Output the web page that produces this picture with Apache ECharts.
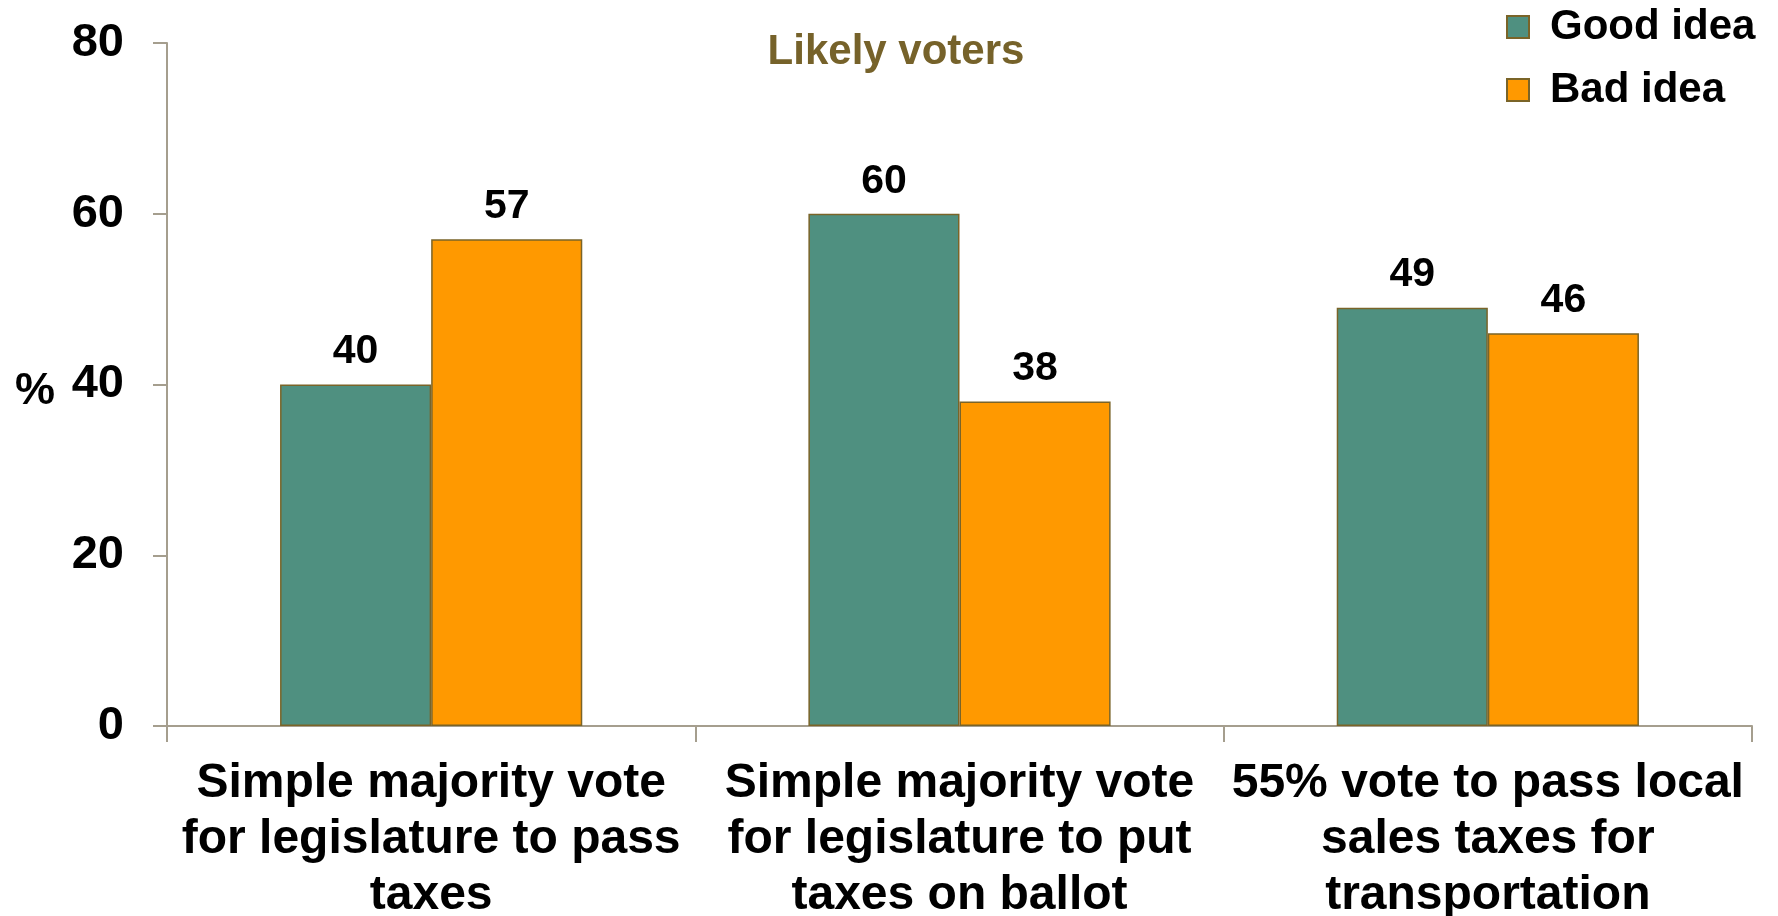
<!DOCTYPE html>
<html>
<head>
<meta charset="utf-8">
<style>html,body{margin:0;padding:0;background:#fff;}#c{width:1778px;height:916px;}</style>
<script src="https://cdn.jsdelivr.net/npm/echarts@6/dist/echarts.min.js"></script>
</head>
<body>
<div id="c"></div>
<script>
var categories = [
  'Simple majority vote\nfor legislature to pass\ntaxes',
  'Simple majority vote\nfor legislature to put\ntaxes on ballot',
  '55% vote to pass local\nsales taxes for\ntransportation'
];
var seriesNames = ['Good idea', 'Bad idea'];
var goodIdea = [40, 60, 49];
var badIdea = [57, 38, 46];
var yTicks = [0, 20, 40, 60, 80];

var FONT = 'Arial, "Liberation Sans", sans-serif';
var axisColor = '#a59e8e';
var borderCol = '#7a6428';

var chart = echarts.init(document.getElementById('c'));
var labelOpt = {
  show: true, position: 'top', distance: 12,
  color: '#000', fontFamily: FONT, fontWeight: 'bold', fontSize: 41
};
chart.setOption({
  animation: false,
  backgroundColor: '#fff',
  graphic: [{
    type: 'text', x: 896, y: 52,
    style: { text: 'Likely voters', fill: '#76622a', font: 'bold 42px ' + FONT,
             textAlign: 'center', textVerticalAlign: 'middle' }
  }],
  legend: {
    orient: 'vertical', left: 1506, top: 6, padding: 0,
    itemWidth: 22, itemHeight: 22, itemGap: 21,
    icon: 'rect',
    data: seriesNames,
    textStyle: { color: '#000', fontFamily: FONT, fontWeight: 'bold', fontSize: 42,
                 lineHeight: 42, padding: [0, 0, 0, 16] }
  },
  grid: { left: 167, right: 26, top: 43, bottom: 190, containLabel: false, outerBoundsMode: 'none' },
  xAxis: {
    type: 'category', data: categories,
    axisLine: { lineStyle: { color: axisColor, width: 2 } },
    axisTick: { show: true, length: 16, lineStyle: { color: axisColor, width: 2 } },
    axisLabel: { color: '#000', fontFamily: FONT, fontWeight: 'bold', fontSize: 48,
                 lineHeight: 56, margin: 30, interval: 0 }
  },
  yAxis: {
    type: 'value', min: 0, max: 80, interval: 20,
    name: '%', nameLocation: 'middle', nameGap: 112, nameRotate: 0,
    nameTextStyle: { color: '#000', fontFamily: FONT, fontWeight: 'bold', fontSize: 45,
                     verticalAlign: 'top', lineHeight: 14 },
    axisLine: { show: true, lineStyle: { color: axisColor, width: 2 } },
    axisTick: { show: true, length: 14, inside: false, lineStyle: { color: axisColor, width: 2 } },
    splitLine: { show: false },
    axisLabel: { color: '#000', fontFamily: FONT, fontWeight: 'bold', fontSize: 47, margin: 43,
                 customValues: yTicks }
  },
  series: [
    { name: seriesNames[0], type: 'bar', data: goodIdea, barWidth: '28.6%', barGap: '0%',
      itemStyle: { color: '#4f9080', borderColor: borderCol, borderWidth: 1.5 },
      label: labelOpt },
    { name: seriesNames[1], type: 'bar', data: badIdea, barWidth: '28.6%', barGap: '0%',
      itemStyle: { color: '#ff9900', borderColor: borderCol, borderWidth: 1.5 },
      label: labelOpt }
  ]
});
</script>
</body>
</html>
